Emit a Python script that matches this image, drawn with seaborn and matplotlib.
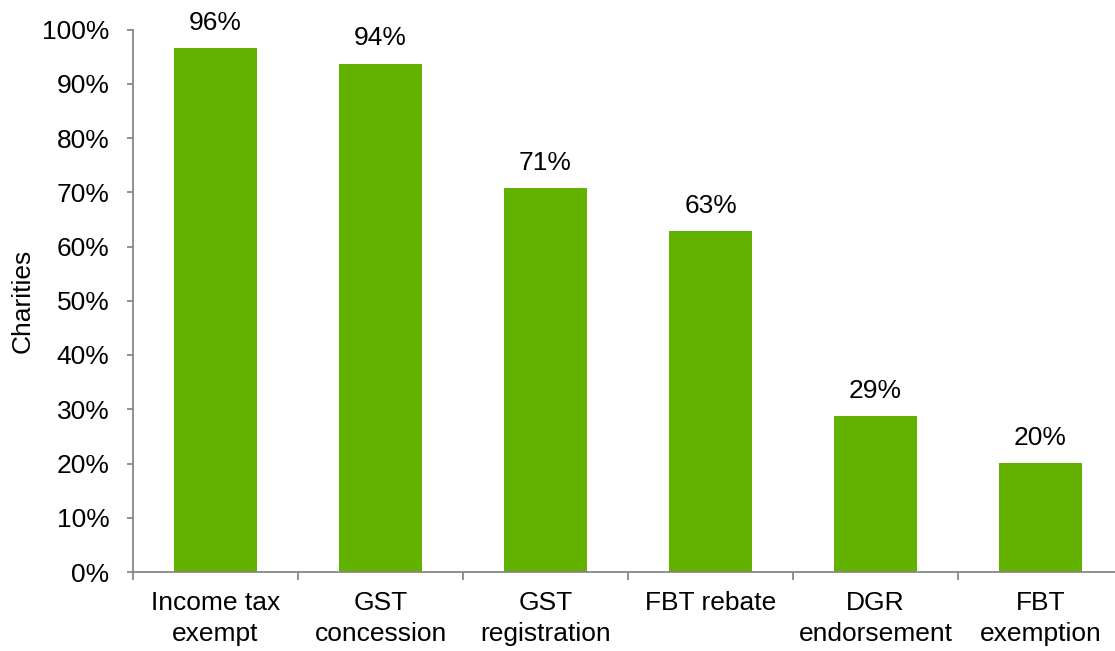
import matplotlib
matplotlib.use("Agg")
import matplotlib.pyplot as plt
import seaborn as sns
import pandas as pd
from matplotlib.ticker import FixedLocator, PercentFormatter

categories = ["Income tax\nexempt", "GST\nconcession", "GST\nregistration",
              "FBT rebate", "DGR\nendorsement", "FBT\nexemption"]
values = [96.5, 93.7, 70.8, 62.9, 28.7, 20.1]
labels = ["96%", "94%", "71%", "63%", "29%", "20%"]
yticks = [0, 10, 20, 30, 40, 50, 60, 70, 80, 90, 100]

sns.set_theme(style="white")
plt.rcParams["font.family"] = ["Liberation Sans", "DejaVu Sans"]

df = pd.DataFrame({"cat": categories, "val": values})

W, H = 1115, 651
FS = 19
fig = plt.figure(figsize=(W / 100, H / 100), dpi=100)
ax = fig.add_axes([133 / W, (H - 572) / H, 990 / W, 542.5 / H])

sns.barplot(data=df, x="cat", y="val", color="#63B200", width=0.5,
            saturation=1, edgecolor="none", ax=ax)

for i, (v, lab) in enumerate(zip(values, labels)):
    ax.annotate(lab, (i, v), xytext=(0, 9.5), textcoords="offset points",
                ha="center", va="bottom", fontsize=FS, color="black")

ax.set_xlim(-0.5, 5.5)
ax.set_ylim(0, 100)
ax.set_yticks(yticks)
ax.yaxis.set_major_formatter(PercentFormatter(decimals=0))
ax.set_xlabel("")
ax.set_ylabel("Charities", fontsize=FS, color="black", labelpad=5)

spine_col = "#888888"
for s in ["top", "right"]:
    ax.spines[s].set_visible(False)
for s in ["left", "bottom"]:
    ax.spines[s].set_color(spine_col)
    ax.spines[s].set_linewidth(1.3)

ax.tick_params(axis="y", which="major", left=True, length=4, width=1.3,
               color=spine_col, labelsize=FS, labelcolor="black", pad=13)
ax.tick_params(axis="x", which="major", bottom=False, length=0,
               labelsize=FS, labelcolor="black", pad=14)
ax.xaxis.set_minor_locator(FixedLocator([i - 0.5 for i in range(len(categories) + 1)]))
ax.tick_params(axis="x", which="minor", bottom=True, length=6, width=1.3,
               color=spine_col)
for t in ax.get_xticklabels():
    t.set_linespacing(1.35)

fig.savefig("out.png", dpi=100)
